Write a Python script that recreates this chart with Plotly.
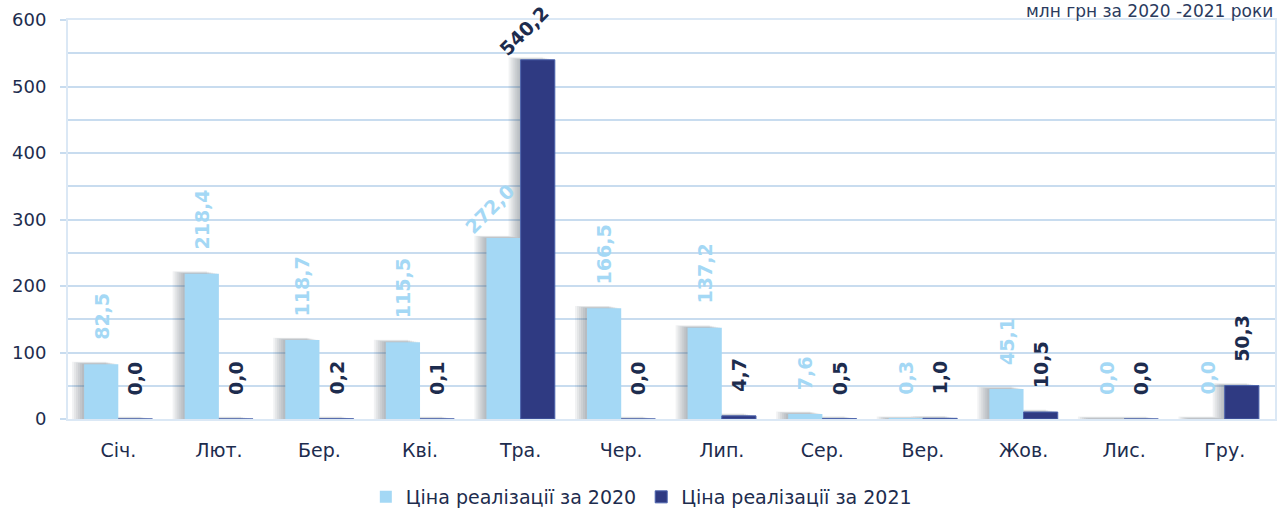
import plotly.graph_objects as go

# Monthly sales price, mln UAH
months = ["Січ.", "Лют.", "Бер.", "Кві.", "Тра.", "Чер.",
          "Лип.", "Сер.", "Вер.", "Жов.", "Лис.", "Гру."]
price_2020 = [82.5, 218.4, 118.7, 115.5, 272.0, 166.5, 137.2, 7.6, 0.3, 45.1, 0.0, 0.0]
price_2021 = [0.0, 0.0, 0.2, 0.1, 540.2, 0.0, 4.7, 0.5, 1.0, 10.5, 0.0, 50.3]
series_names = ["Ціна реалізації за 2020", "Ціна реалізації за 2021"]
y_ticks = [0, 100, 200, 300, 400, 500, 600]

FONT = "DejaVu Sans"
LIGHT = "#a4d8f5"
DARK = "#2f3a82"
TEXT = "#1d2c4e"
GRID = "#c8dcef"
W = 0.34
PX_X = 1 / 100.6      # data units per pixel (x)
PX_Y = 600 / 399.0    # data units per pixel (y)

fig = go.Figure()

# soft drop shadows behind the bars (stacked translucent layers)
for vals, off in ((price_2020, -W), (price_2021, 0.0)):
    for k in (2, 4, 6, 8, 10, 12):
        fig.add_trace(go.Bar(
            x=months, y=[v + k * 0.2 * PX_Y for v in vals],
            offset=off - k * PX_X, width=W,
            marker=dict(color="rgba(70,78,95,0.075)", line=dict(width=0)),
            showlegend=False, hoverinfo="skip"))

fig.add_trace(go.Bar(x=months, y=price_2020, name=series_names[0],
                     offset=-W, width=W,
                     marker=dict(color=LIGHT, line=dict(width=0))))
fig.add_trace(go.Bar(x=months, y=price_2021, name=series_names[1],
                     offset=0.0, width=W,
                     marker=dict(color=DARK, line=dict(color="#4b63ad", width=1))))

# value labels
annotations = []
for vals, col, off in ((price_2020, LIGHT, -W / 2), (price_2021, TEXT, W / 2)):
    for m, v in zip(months, vals):
        txt = f"{v:.1f}".replace(".", ",")
        if v > 250:
            angle, xs, ys = -45, -14, -3
        else:
            angle, xs, ys = -90, 0, 22
        annotations.append(dict(
            x=m, y=v, xref="x", yref="y", text=f"<b>{txt}</b>",
            showarrow=False, textangle=angle, xanchor="center", yanchor="bottom",
            xshift=off / PX_X + xs, yshift=ys,
            font=dict(family=FONT, size=19, color=col)))

annotations.append(dict(
    x=1.0, y=1 + (20 - 11) / 399, xref="paper", yref="paper",
    text="млн грн за 2020 -2021 роки",
    showarrow=False, xanchor="right", yanchor="middle",
    font=dict(family=FONT, size=17, color="#2b3b5e")))

fig.update_layout(
    width=1282, height=510,
    margin=dict(l=68, r=7, t=20, b=91, autoexpand=False),
    paper_bgcolor="white", plot_bgcolor="white",
    barmode="overlay",
    showlegend=True,
    legend=dict(orientation="h", x=0.475, xanchor="center",
                yref="container", y=1 - 497 / 510, yanchor="middle",
                font=dict(family=FONT, size=19, color=TEXT),
                traceorder="normal", itemwidth=30),
    annotations=annotations,
)

fig.update_xaxes(
    type="category", categoryorder="array", categoryarray=months,
    showgrid=False, showline=True, linecolor="#dbe8f5", linewidth=2, mirror=True,
    ticks="", tickfont=dict(family=FONT, size=19, color=TEXT),
    ticklabelstandoff=13, range=[-0.5, 11.5])
fig.update_yaxes(
    range=[0, 600], tickvals=y_ticks, ticks="outside", ticklen=6, tickcolor=GRID,
    tickwidth=2,
    showgrid=True, gridcolor=GRID, gridwidth=2,
    minor=dict(dtick=50, showgrid=True, gridcolor=GRID, gridwidth=2),
    showline=True, linecolor="#dbe8f5", linewidth=2, mirror=True,
    zeroline=False,
    tickfont=dict(family=FONT, size=18, color=TEXT),
    ticklabelstandoff=10)

fig.write_html("out.html")
